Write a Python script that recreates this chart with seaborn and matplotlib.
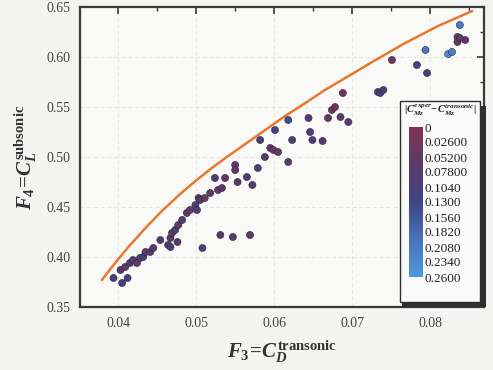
import numpy as np
import pandas as pd
import matplotlib
matplotlib.use("Agg")
import matplotlib.pyplot as plt
import seaborn as sns
from matplotlib.colors import LinearSegmentedColormap, Normalize
from matplotlib.patches import Rectangle
from matplotlib.ticker import MultipleLocator

# ---------------- data ----------------
cd_transonic = [
    0.0394, 0.0403, 0.0409, 0.0405, 0.0412, 0.0415, 0.0419, 0.0424, 0.0428, 0.0432,
    0.0435, 0.0441, 0.0445, 0.0454, 0.0464, 0.0467, 0.0469, 0.0473, 0.0477, 0.0482,
    0.0488, 0.0492, 0.0499, 0.0503, 0.0508, 0.0467, 0.0476, 0.0531, 0.0547, 0.0569,
    0.0501, 0.0505, 0.0511, 0.0518, 0.0528, 0.0533, 0.0524, 0.0537, 0.0553, 0.0550,
    0.0550, 0.0565, 0.0572, 0.0579, 0.0588, 0.0595, 0.0599, 0.0605, 0.0582, 0.0601,
    0.0618, 0.0623, 0.0618, 0.0644, 0.0646, 0.0649, 0.0662, 0.0669, 0.0674, 0.0678,
    0.0685, 0.0695, 0.0688, 0.0733, 0.0736, 0.0740, 0.0751, 0.0783, 0.0796, 0.0794,
    0.0823, 0.0828, 0.0835, 0.0838, 0.0845, 0.0835, 0.0838,
]
cl_subsonic = [
    0.379, 0.387, 0.390, 0.374, 0.379, 0.394, 0.397, 0.394, 0.399, 0.400,
    0.405, 0.405, 0.409, 0.417, 0.412, 0.419, 0.424, 0.427, 0.432, 0.437,
    0.444, 0.447, 0.452, 0.459, 0.409, 0.410, 0.415, 0.422, 0.420, 0.422,
    0.447, 0.457, 0.459, 0.464, 0.467, 0.469, 0.479, 0.479, 0.475, 0.492,
    0.487, 0.480, 0.472, 0.489, 0.500, 0.509, 0.507, 0.505, 0.517, 0.527,
    0.537, 0.517, 0.495, 0.539, 0.525, 0.517, 0.516, 0.539, 0.547, 0.550,
    0.540, 0.535, 0.564, 0.565, 0.564, 0.567, 0.597, 0.592, 0.584, 0.607,
    0.603, 0.605, 0.620, 0.632, 0.617, 0.615, 0.619,
]
cmz_error = [
    0.10, 0.08, 0.06, 0.11, 0.09, 0.07, 0.10, 0.05, 0.08, 0.09,
    0.06, 0.10, 0.07, 0.08, 0.09, 0.05, 0.07, 0.10, 0.06, 0.08,
    0.07, 0.05, 0.09, 0.06, 0.10, 0.08, 0.07, 0.06, 0.08, 0.05,
    0.09, 0.07, 0.04, 0.06, 0.03, 0.08, 0.10, 0.05, 0.07, 0.04,
    0.06, 0.09, 0.08, 0.10, 0.07, 0.05, 0.03, 0.06, 0.11, 0.12,
    0.14, 0.09, 0.07, 0.08, 0.10, 0.09, 0.08, 0.05, 0.03, 0.02,
    0.06, 0.07, 0.02, 0.11, 0.10, 0.09, 0.03, 0.10, 0.09, 0.20,
    0.24, 0.22, 0.04, 0.21, 0.05, 0.03, 0.06,
]
front_x = [0.0379, 0.0396, 0.0413, 0.0435, 0.0456, 0.0478, 0.0499, 0.0520, 0.0541,
           0.0563, 0.0585, 0.0612, 0.0640, 0.0665, 0.0691, 0.0730, 0.0768, 0.0810,
           0.0854]
front_y = [0.377, 0.394, 0.410, 0.429, 0.446, 0.462, 0.476, 0.489, 0.501,
           0.513, 0.525, 0.540, 0.554, 0.567, 0.579, 0.597, 0.614, 0.631,
           0.646]
cbar_ticks = [0, 0.026, 0.052, 0.078, 0.104, 0.130, 0.156, 0.182, 0.208, 0.234, 0.260]
cbar_labels = ["0", "0.02600", "0.05200", "0.07800", "0.1040", "0.1300",
               "0.1560", "0.1820", "0.2080", "0.2340", "0.2600"]

# ---------------- style ----------------
sns.set_theme(style="white")
plt.rcParams["font.family"] = ["Liberation Serif", "DejaVu Serif"]
plt.rcParams["mathtext.fontset"] = "custom"
plt.rcParams["mathtext.rm"] = "Liberation Serif:bold"
plt.rcParams["mathtext.it"] = "Liberation Serif:bold:italic"
plt.rcParams["mathtext.bf"] = "Liberation Serif:bold"

cmap = LinearSegmentedColormap.from_list(
    "err", ["#7d3556", "#5b3a68", "#3f4384", "#4a72bd", "#4c98dc"])
norm = Normalize(0, 0.26)

fig = plt.figure(figsize=(4.93, 3.70), dpi=100, facecolor="#f4f4f2")
ax = fig.add_axes([80 / 493, 63 / 370, 404 / 493, 300 / 370])
ax.set_facecolor("#f9f9f8")

df = pd.DataFrame({"x": cd_transonic, "y": cl_subsonic, "e": cmz_error})
line_df = pd.DataFrame({"x": front_x, "y": front_y})

sns.lineplot(data=line_df, x="x", y="y", ax=ax, color="#e8782e", lw=1.8,
             sort=False, zorder=3)
sns.scatterplot(data=df, x="x", y="y", hue="e", palette=cmap, hue_norm=norm,
                legend=False, ax=ax, s=26, edgecolor="#2a2540", linewidth=0.4,
                zorder=4)

ax.set_xlim(0.0351, 0.0869)
ax.set_ylim(0.35, 0.65)
ax.xaxis.set_major_locator(MultipleLocator(0.01))
ax.xaxis.set_minor_locator(MultipleLocator(0.005))
ax.yaxis.set_major_locator(MultipleLocator(0.05))
ax.yaxis.set_minor_locator(MultipleLocator(0.025))
ax.xaxis.set_major_formatter(plt.FuncFormatter(lambda v, p: f"{v:.2f}"))
ax.yaxis.set_major_formatter(plt.FuncFormatter(lambda v, p: f"{v:.2f}"))
ax.tick_params(which="both", direction="in", top=True, right=True,
               colors="#3a3a3a", labelcolor="#444444", labelsize=10)
ax.tick_params(which="major", length=5, width=1.2, pad=7)
ax.tick_params(which="minor", length=3, width=1.0)
ax.grid(True, which="major", color="#e6e6e6", lw=0.7, ls=(0, (4, 3)))
for s in ax.spines.values():
    s.set_color("#3a3a3a")
    s.set_linewidth(1.6)

ax.set_xlabel(r"$F_3\!=\!C_D^{\mathrm{transonic}}$", fontsize=15, color="#333333",
              labelpad=6)
ax.set_ylabel(r"$F_4\!=\!C_L^{\mathrm{subsonic}}$", fontsize=15, color="#333333",
              labelpad=5)

# ---------------- colorbar box ----------------
bx0, by0 = (400 - 80) / 404, (307 - 302) / 300
bw, bh = (480 - 400) / 404, (302 - 101) / 300
shadow = Rectangle((bx0 + 0.006, by0 - 0.017), bw + 0.009, bh, transform=ax.transAxes,
                   facecolor="#2e2e2e", edgecolor="none", zorder=5, clip_on=False)
box = Rectangle((bx0, by0), bw, bh, transform=ax.transAxes,
                facecolor="#fbfbfb", edgecolor="#2e2e2e", lw=1.0, zorder=6,
                clip_on=False)
ax.add_patch(shadow)
ax.add_patch(box)

cax = ax.inset_axes([(409 - 80) / 404, (307 - 277) / 300,
                     (423 - 409) / 404, (277 - 127) / 300])
cax.set_zorder(7)
sm = plt.cm.ScalarMappable(norm=norm, cmap=cmap)
cb = fig.colorbar(sm, cax=cax, orientation="vertical")
cb.outline.set_visible(False)
cax.invert_yaxis()
cb.set_ticks(cbar_ticks)
cb.set_ticklabels(cbar_labels)
cax.tick_params(length=0, pad=1, labelsize=9.5, labelcolor="#222222")
ax.text((440 - 80) / 404, (307 - 110) / 300,
        r"$|C_{Mz}^{exper}\!-\!C_{Mz}^{transonic}|$", transform=ax.transAxes,
        ha="center", va="center", fontsize=7.5, color="#222222", zorder=8)

fig.savefig("out.png", dpi=100, facecolor=fig.get_facecolor())
